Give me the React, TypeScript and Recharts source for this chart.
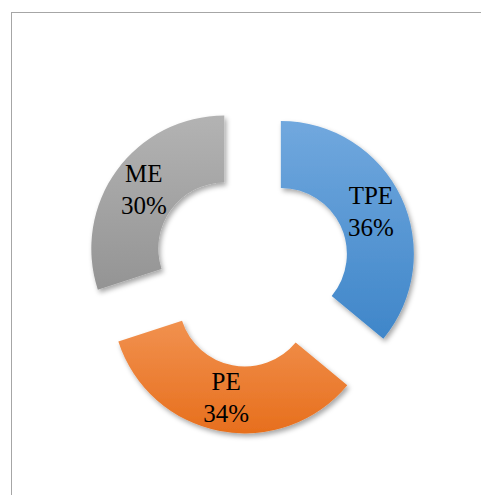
import { PieChart, Pie, Cell, Sector } from 'recharts'

const categories = ['TPE', 'PE', 'ME']
const values = [36, 34, 30]
const gradients = [
  ['#71a8de', '#3f86c9'],
  ['#f1914f', '#e76f1d'],
  ['#b3b3b3', '#949494'],
]

const data = categories.map((name, i) => ({ name, value: values[i] }))

const RAD = Math.PI / 180
const EXPLODE = 33
const SERIF = '"Liberation Serif", "Times New Roman", serif'

function ExplodedSlice(props: any) {
  const { cx, cy, midAngle, innerRadius, outerRadius, startAngle, endAngle, index, percent, name } = props
  const ox = cx + EXPLODE * Math.cos(-midAngle * RAD)
  const oy = cy + EXPLODE * Math.sin(-midAngle * RAD)
  const mid = (innerRadius + outerRadius) / 2
  const tx = ox + mid * Math.cos(-midAngle * RAD)
  const ty = oy + mid * Math.sin(-midAngle * RAD)
  return (
    <g>
      <Sector
        cx={ox}
        cy={oy}
        innerRadius={innerRadius}
        outerRadius={outerRadius}
        startAngle={startAngle}
        endAngle={endAngle}
        fill={`url(#grad${index})`}
        stroke="none"
        filter="url(#shadow)"
      />
      <text
        x={tx}
        y={ty}
        textAnchor="middle"
        style={{ fontFamily: SERIF, fontSize: 25 }}
        fill="#000"
      >
        <tspan x={tx} dy={-8}>{name}</tspan>
        <tspan x={tx} dy={32}>{`${Math.round(percent * 100)}%`}</tspan>
      </text>
    </g>
  )
}

export default function App() {
  return (
    <div style={{ position: 'absolute', left: 0, top: 0, width: 481, height: 495, overflow: 'hidden', background: '#fff' }}>
      <div
        style={{
          position: 'absolute',
          left: 11,
          top: 12,
          width: 520,
          height: 520,
          border: '1.5px solid #a6a6a6',
          boxSizing: 'border-box',
        }}
      />
      <div style={{ position: 'absolute', left: 0, top: 0 }}>
        <PieChart width={481} height={495} margin={{ top: 0, right: 0, bottom: 0, left: 0 }}>
          <defs>
            {gradients.map((g, i) => (
              <linearGradient key={i} id={`grad${i}`} x1="0" y1="0" x2="0" y2="1">
                <stop offset="0%" stopColor={g[0]} />
                <stop offset="100%" stopColor={g[1]} />
              </linearGradient>
            ))}
            <filter id="shadow" x="-20%" y="-20%" width="140%" height="140%">
              <feDropShadow dx="2" dy="3" stdDeviation="2.5" floodColor="#000" floodOpacity="0.35" />
            </filter>
          </defs>
          <Pie
            data={data}
            dataKey="value"
            nameKey="name"
            cx={251}
            cy={268}
            innerRadius={66}
            outerRadius={133}
            startAngle={90}
            endAngle={-270}
            stroke="none"
            labelLine={false}
            label={ExplodedSlice}
            isAnimationActive={false}
          >
            {data.map((_, i) => (
              <Cell key={i} fill="transparent" />
            ))}
          </Pie>
        </PieChart>
      </div>
    </div>
  )
}
